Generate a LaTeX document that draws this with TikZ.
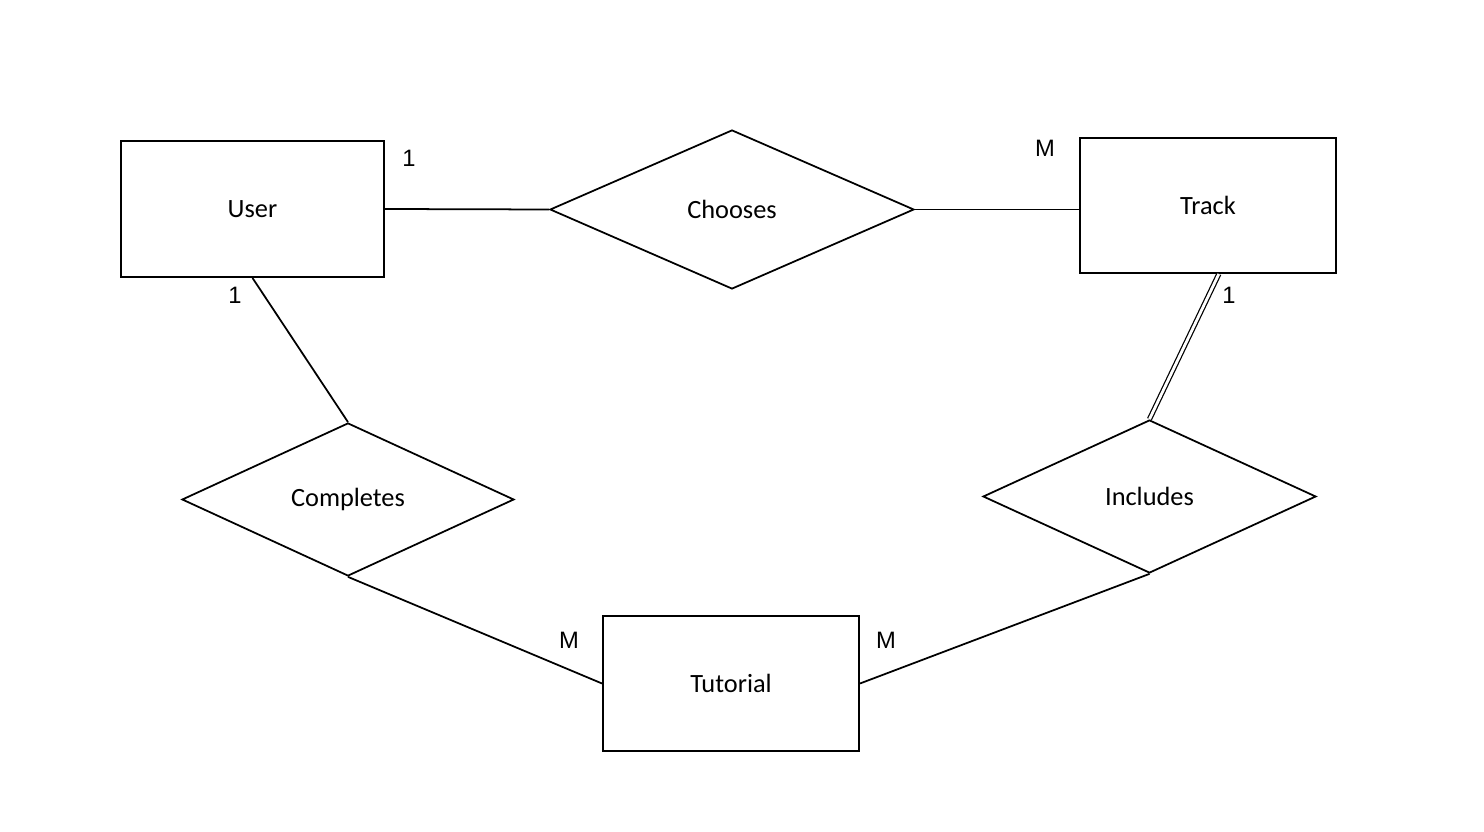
\documentclass[tikz,border=0pt]{standalone}
\usepackage{fontspec}
\setmainfont{Carlito}
\newfontfamily\cardfont{Liberation Sans}
\usetikzlibrary{shapes.geometric}

\begin{document}
\begin{tikzpicture}[line width=1pt,
	entity/.style={draw, line width=1.1pt, minimum width=5.12cm, minimum height=2.7cm, font=\fontsize{15}{18}\selectfont},
	relation/.style={draw, diamond, inner sep=0pt, minimum width=6.64cm, minimum height=3.06cm, font=\fontsize{15}{18}\selectfont},
	card/.style={font=\cardfont\fontsize{13.5}{16}\selectfont}]
		\useasboundingbox (0,0) rectangle (29.68,-16.64);
		
		% Draw the entities
		\node (user) [entity, minimum width=5.26cm, minimum height=2.72cm] at (5.05,-4.18) {User};
		\node (track) [entity] at (24.16,-4.11) {Track};
		\node (tutorial) [entity] at (14.62,-13.67) {Tutorial};
		
		% Draw the relationships
		\node (chooses) [relation, minimum width=7.28cm, minimum height=3.18cm] at (14.64,-4.19) {Chooses};
		\node (completes) [relation] at (6.96,-9.99) {Completes};
		\node (includes) [relation, minimum width=6.66cm] at (22.99,-9.93) {Includes};
		
		% Connect entities and relationships
		\draw (user.east) -- (chooses.west);
		\draw (chooses.east) -- (chooses.east -| track.west);
		\draw (user.south) -- (completes.north);
		\draw (completes.south) -- (tutorial.west);
		\draw (includes.south) -- (tutorial.east);
		\draw[double, line width=0.7pt, double distance=1.6pt] (track.-81) -- (includes.north);
		
		% Draw the cardinalities
		\node (c-user-chooses) [card] at (8.18,-3.16) {1};
		\node (c-track-chooses) [card] at (20.9,-2.96) {M};
		\node (c-user-completes) [card] at (4.7,-5.9) {1};
		\node (c-track-includes) [card] at (24.58,-5.9) {1};
		\node (c-tutorial-completes) [card] at (11.38,-12.8) {M};
		\node (c-tutorial-includes) [card] at (17.72,-12.8) {M};
		\end{tikzpicture}
\end{document}
